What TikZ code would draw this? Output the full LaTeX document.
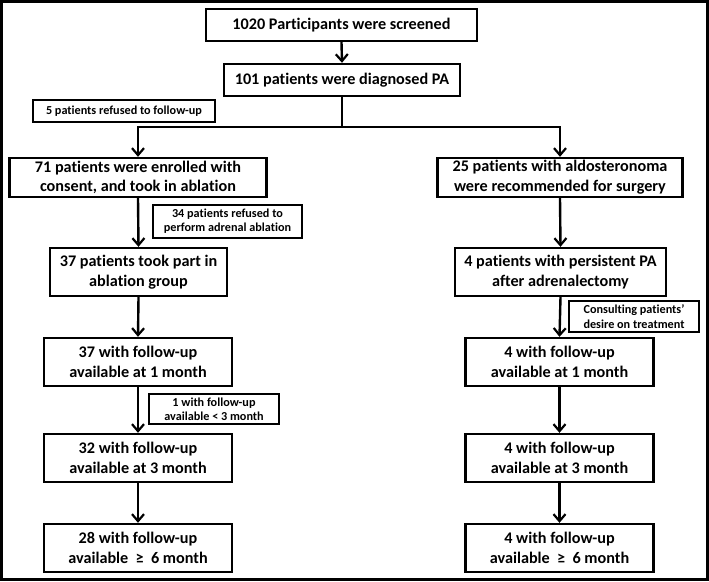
\documentclass[tikz,border=0pt]{standalone}
\usepackage{fontspec}
\setmainfont{Carlito}[Ligatures=NoCommon]
\usetikzlibrary{arrows.meta}
\begin{document}
\begin{tikzpicture}[x=1pt,y=-1pt,
  box/.style={draw=black,line width=2.4pt,fill=white,align=center,inner sep=0pt,
    font=\fontsize{16.2}{19.8}\selectfont\bfseries},
  sidebox/.style={draw=black,line width=2.2pt,fill=white,align=center,inner sep=0pt,
    font=\fontsize{12.2}{14.3}\selectfont\bfseries},
  conn/.style={line width=2.4pt,-{Straight Barb[length=7pt,width=12pt,line width=2.2pt]}},
  plain/.style={line width=2.4pt}]
\useasboundingbox (0,0) rectangle (709,581);
\draw[line width=3pt] (1.5,1.5) rectangle (707.5,579.5);

\node[box,minimum width=271pt,minimum height=32pt] (b1) at (341.5,25) {1020 Participants were screened};
\node[box,minimum width=236pt,minimum height=32pt] (b2) at (342,80) {101 patients were diagnosed PA};
\node[sidebox,minimum width=182pt,minimum height=22pt] (r1) at (124,111) {5 patients refused to follow-up};
\node[box,minimum width=257pt,minimum height=39pt] (b3) at (138,177.5) {71 patients were enrolled with\\consent, and took in ablation};
\node[box,minimum width=245pt,minimum height=39pt] (b4) at (560,177.5) {25 patients with aldosteronoma\\were recommended for surgery};
\node[sidebox,minimum width=149pt,minimum height=33pt] (r2) at (227.5,221.5) {34 patients refused to\\perform adrenal ablation};
\node[box,minimum width=177pt,minimum height=48pt] (b5) at (138.5,272) {37 patients took part in\\ablation group};
\node[box,minimum width=211pt,minimum height=48pt] (b6) at (560.5,272) {4 patients with persistent PA\\after adrenalectomy};
\node[sidebox,minimum width=130pt,minimum height=31pt] (r3) at (634,316.5) {Consulting patients’\\desire on treatment};
\node[box,minimum width=188pt,minimum height=48pt] (b7) at (138,362) {37 with follow-up\\available at 1 month};
\node[box,minimum width=188pt,minimum height=48pt] (b8) at (559.5,362) {4 with follow-up\\available at 1 month};
\node[sidebox,minimum width=130pt,minimum height=30pt] (r4) at (214,409) {1 with follow-up\\available {<} 3 month};
\node[box,minimum width=188pt,minimum height=48pt] (b9) at (138,458) {32 with follow-up\\available at 3 month};
\node[box,minimum width=188pt,minimum height=48pt] (b10) at (559.5,458) {4 with follow-up\\available at 3 month};
\node[box,minimum width=188pt,minimum height=48pt] (b11) at (138,548) {28 with follow-up\\available \ ≥ \ 6 month};
\node[box,minimum width=188pt,minimum height=48pt] (b12) at (559.5,548) {4 with follow-up\\available \ ≥ \ 6 month};

\coordinate (split) at (342,127);
\draw[conn] (b1.south) -- (b2.north);
\draw[plain] (b2.south) -- (split);
\draw[conn] (split) -| (b3.north);
\draw[conn] (split) -| (b4.north);
\draw[conn] (b3.south) -- (b5.north);
\draw[conn] (b4.south) -- (b6.north);
\draw[conn] (b5.south) -- (b7.north);
\draw[conn] (b7.south) -- (b9.north);
\draw[conn] (b9.south) -- (b11.north);
\draw[conn] (b6.south) -- (b8.north);
\draw[conn] (b8.south) -- (b10.north);
\draw[conn] (b10.south) -- (b12.north);
\end{tikzpicture}
\end{document}
